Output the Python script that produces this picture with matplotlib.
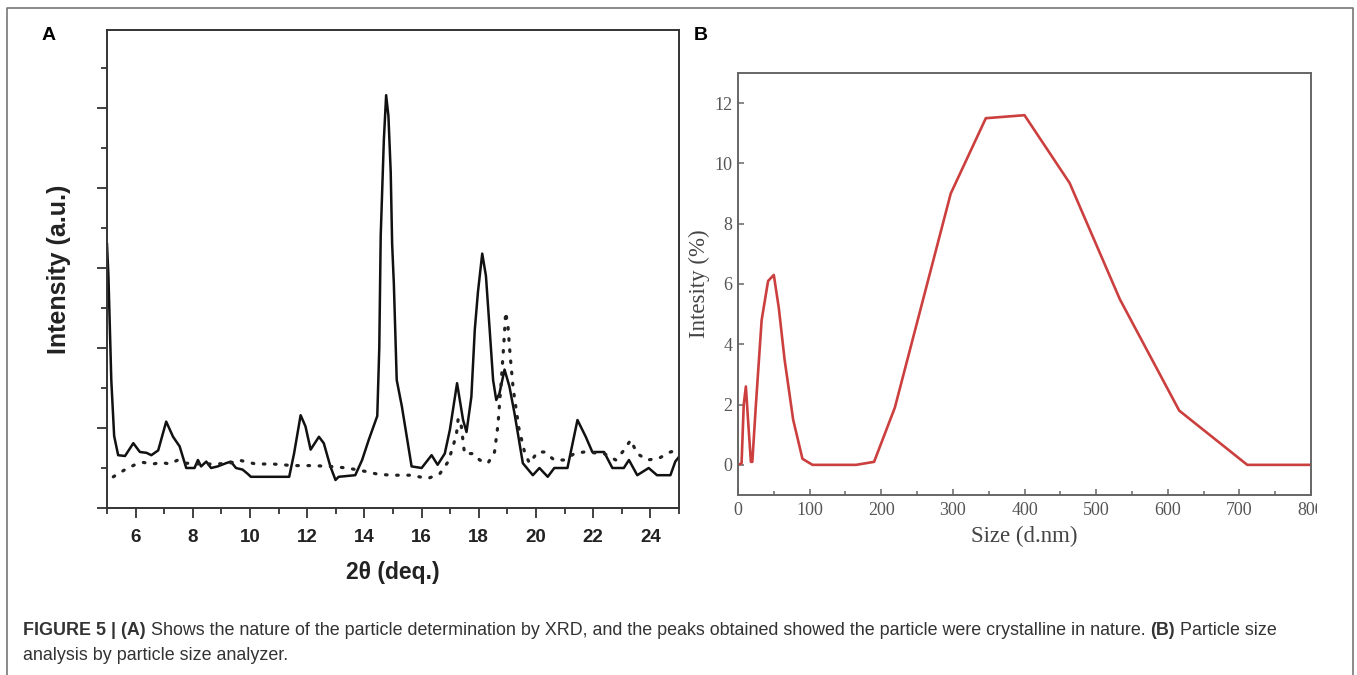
import matplotlib.pyplot as plt
from matplotlib.ticker import MultipleLocator
from matplotlib.lines import Line2D
from matplotlib.patches import Rectangle

# (A) XRD pattern, solid = sample, dotted = reference
xrd_theta = [5.0, 5.05, 5.15, 5.25, 5.39, 5.63, 5.92, 6.15, 6.38, 6.55, 6.79, 7.07, 7.31, 7.54,
             7.77, 8.06, 8.18, 8.29, 8.47, 8.64, 8.87, 9.16, 9.33, 9.51, 9.74, 9.91, 10.03,
             11.37, 11.54, 11.77, 11.94, 12.12, 12.41, 12.58, 12.81, 12.99, 13.10, 13.68, 13.92,
             14.15, 14.45, 14.52, 14.57, 14.68, 14.76, 14.84, 14.92, 14.97, 15.03, 15.13, 15.31,
             15.65, 16.0, 16.35, 16.56, 16.81, 16.99, 17.24, 17.45, 17.57, 17.74, 17.86, 17.97,
             18.12, 18.25, 18.38, 18.5, 18.61, 18.72, 18.9, 19.07, 19.25, 19.54, 19.89, 20.12,
             20.41, 20.64, 21.1, 21.45, 21.74, 21.97, 22.38, 22.67, 23.07, 23.25, 23.54, 23.94,
             24.23, 24.7, 24.87, 25.0]
xrd_sample = [3.3, 2.9, 1.6, 0.9, 0.66, 0.65, 0.81, 0.70, 0.69, 0.66, 0.72, 1.08, 0.89, 0.77,
              0.50, 0.50, 0.60, 0.52, 0.58, 0.50, 0.52, 0.56, 0.58, 0.50, 0.48, 0.43, 0.39,
              0.39, 0.68, 1.16, 1.02, 0.73, 0.89, 0.81, 0.52, 0.35, 0.39, 0.41, 0.60,
              0.85, 1.15, 2.0, 3.4, 4.6, 5.16, 4.9, 4.2, 3.3, 2.8, 1.6, 1.27,
              0.52, 0.50, 0.66, 0.54, 0.68, 0.98, 1.56, 1.10, 0.95, 1.39, 2.23, 2.7,
              3.18, 2.9, 2.23, 1.6, 1.35, 1.43, 1.73, 1.52, 1.18, 0.56, 0.41, 0.50,
              0.39, 0.50, 0.50, 1.10, 0.89, 0.70, 0.70, 0.50, 0.50, 0.60, 0.41, 0.50,
              0.41, 0.41, 0.58, 0.64]

ref_theta = [5.22, 5.63, 5.97, 6.26, 6.61, 6.9, 7.19, 7.48, 7.77, 8.3, 8.8, 9.3, 9.6, 10.2,
             10.8, 11.5, 12.2, 12.8, 13.4, 14.0, 14.5, 15.0, 15.6, 16.23, 16.64, 16.93, 17.1,
             17.22, 17.28, 17.39, 17.5, 17.8, 18.03, 18.32, 18.55, 18.67, 18.78, 18.88, 18.94,
             19.02, 19.1, 19.2, 19.4, 19.6, 19.77, 20.06, 20.29, 20.64, 20.99, 21.34, 21.68,
             22.38, 22.79, 23.07, 23.31, 23.54, 23.89, 24.29, 24.7, 24.9]
ref_intensity = [0.39, 0.48, 0.54, 0.57, 0.55, 0.57, 0.55, 0.60, 0.56, 0.55, 0.55, 0.56, 0.60, 0.55,
                 0.55, 0.53, 0.53, 0.52, 0.50, 0.46, 0.42, 0.41, 0.41, 0.37, 0.43, 0.58, 0.77,
                 0.93, 1.12, 1.02, 0.68, 0.68, 0.60, 0.56, 0.70, 1.04, 1.56, 2.08, 2.45,
                 2.27, 1.89, 1.5, 1.0, 0.70, 0.56, 0.70, 0.70, 0.60, 0.60, 0.68, 0.70,
                 0.68, 0.60, 0.72, 0.85, 0.68, 0.60, 0.62, 0.70, 0.72]

# (B) particle size distribution
size_nm = [0, 5, 8, 11, 14, 18, 20, 25, 33, 42, 50, 57, 65, 77, 90, 104, 165, 190, 219, 297,
           346, 400, 463, 533, 616, 711, 800]
size_intensity = [0, 0.05, 2.0, 2.6, 1.5, 0.1, 0.1, 2.0, 4.8, 6.1, 6.3, 5.2, 3.5, 1.5, 0.2, 0,
                  0, 0.1, 1.9, 9.0, 11.5, 11.6, 9.35, 5.5, 1.8, 0, 0]

caption1 = [("FIGURE 5 | (A)", True),
            ("Shows the nature of the particle determination by XRD, and the peaks obtained "
             "showed the particle were crystalline in nature.", False),
            ("(B)", True),
            ("Particle size", False)]
caption2 = [("analysis by particle size analyzer.", False)]

W, H = 1357, 675
fig = plt.figure(figsize=(W / 100, H / 100), dpi=100)


def box(l, t, r, b):
    return [l / W, 1 - b / H, (r - l) / W, (b - t) / H]


# ---- panel A ----
axA = fig.add_axes(box(107, 30, 679, 508))
axA.plot(xrd_theta, xrd_sample, color='#111111', lw=1.8, solid_joinstyle='round')
axA.plot(ref_theta, ref_intensity, color='#222222', lw=2.3,
         linestyle=(0, (0.5, 3.0)), dash_capstyle='round')
axA.set_xlim(5, 25)
axA.set_ylim(0, 5.975)
axA.xaxis.set_major_locator(MultipleLocator(2))
axA.xaxis.set_minor_locator(MultipleLocator(1))
axA.yaxis.set_major_locator(MultipleLocator(1))
axA.yaxis.set_minor_locator(MultipleLocator(0.5))
axA.set_xticks(range(6, 25, 2))
axA.tick_params(which='both', direction='out', color='#333333', width=1.3,
                labelsize=13.5, labelcolor='#222222', pad=8)
axA.tick_params(which='major', length=7)
axA.tick_params(which='minor', length=4.5)
axA.tick_params(axis='y', labelleft=False)
for lab in axA.get_xticklabels():
    lab.set_fontweight('bold')
    lab.set_family('Liberation Sans')
for s in axA.spines.values():
    s.set_color('#333333')
    s.set_linewidth(1.4)
axA.set_xlabel('2θ (deq.)', fontsize=16.5, fontweight='bold', family='Liberation Sans',
               color='#222222')
axA.set_ylabel('Intensity (a.u.)', fontsize=18, fontweight='bold', family='Liberation Sans',
               color='#222222')
axA.xaxis.set_label_coords(0.5, -0.11)
axA.yaxis.set_label_coords(-0.063, 0.5)

# ---- panel B ----
axB = fig.add_axes(box(738, 73, 1311, 495))
axB.plot(size_nm, size_intensity, color='#cc3f3f', lw=1.9)
axB.set_xlim(0, 800)
axB.set_ylim(-1, 13)
axB.xaxis.set_major_locator(MultipleLocator(100))
axB.xaxis.set_minor_locator(MultipleLocator(50))
axB.set_yticks(range(0, 13, 2))
axB.tick_params(which='both', direction='in', color='#666666', width=1.1,
                labelsize=13, labelcolor='#555555')
axB.tick_params(which='major', length=4)
axB.tick_params(which='minor', length=3)
axB.tick_params(axis='x', pad=5)
axB.tick_params(axis='y', pad=4)
for lab in axB.get_xticklabels() + axB.get_yticklabels():
    lab.set_family('Liberation Serif')
for s in axB.spines.values():
    s.set_color('#666666')
    s.set_linewidth(1.4)
axB.set_xlabel('Size (d.nm)', fontsize=16.5, family='Liberation Serif', color='#444444')
axB.set_ylabel('Intesity (%)', fontsize=16.5, family='Liberation Serif', color='#444444')
axB.xaxis.set_label_coords(0.5, -0.072)
axB.yaxis.set_label_coords(-0.048, 0.5)

# the source crop cuts the last tick label
fig.add_artist(Rectangle((1317 / W, 1 - 525 / H), 33 / W, 30 / H, transform=fig.transFigure,
                         facecolor='white', edgecolor='none', zorder=5))

# panel letters
fig.text(49 / W, 1 - 35 / H, 'A', fontsize=14, fontweight='bold', family='Liberation Sans',
         ha='center', va='center')
fig.text(701 / W, 1 - 35 / H, 'B', fontsize=14, fontweight='bold', family='Liberation Sans',
         ha='center', va='center')

# outer frame (no bottom edge)
fig.add_artist(Line2D([7 / W, 7 / W, 1353 / W, 1353 / W], [0, 1 - 8 / H, 1 - 8 / H, 0],
                      transform=fig.transFigure, color='#777777', lw=1.2))


def caption_line(parts, x, y, size=12.9):
    prev = None
    for txt, bold in parts:
        kw = dict(fontsize=size, fontweight='bold' if bold else 'normal',
                  family='Liberation Sans', color='#333333', va='baseline', ha='left')
        if prev is None:
            prev = fig.text(x / W, 1 - y / H, txt, **kw)
        else:
            prev = axA.annotate(txt, xy=(1, H - y), xycoords=(prev, 'figure pixels'),
                                xytext=(3.6, 0), textcoords='offset points', **kw)


caption_line(caption1, 23, 635)
caption_line(caption2, 23, 660)

fig.savefig('out.png', dpi=100, facecolor='white')
